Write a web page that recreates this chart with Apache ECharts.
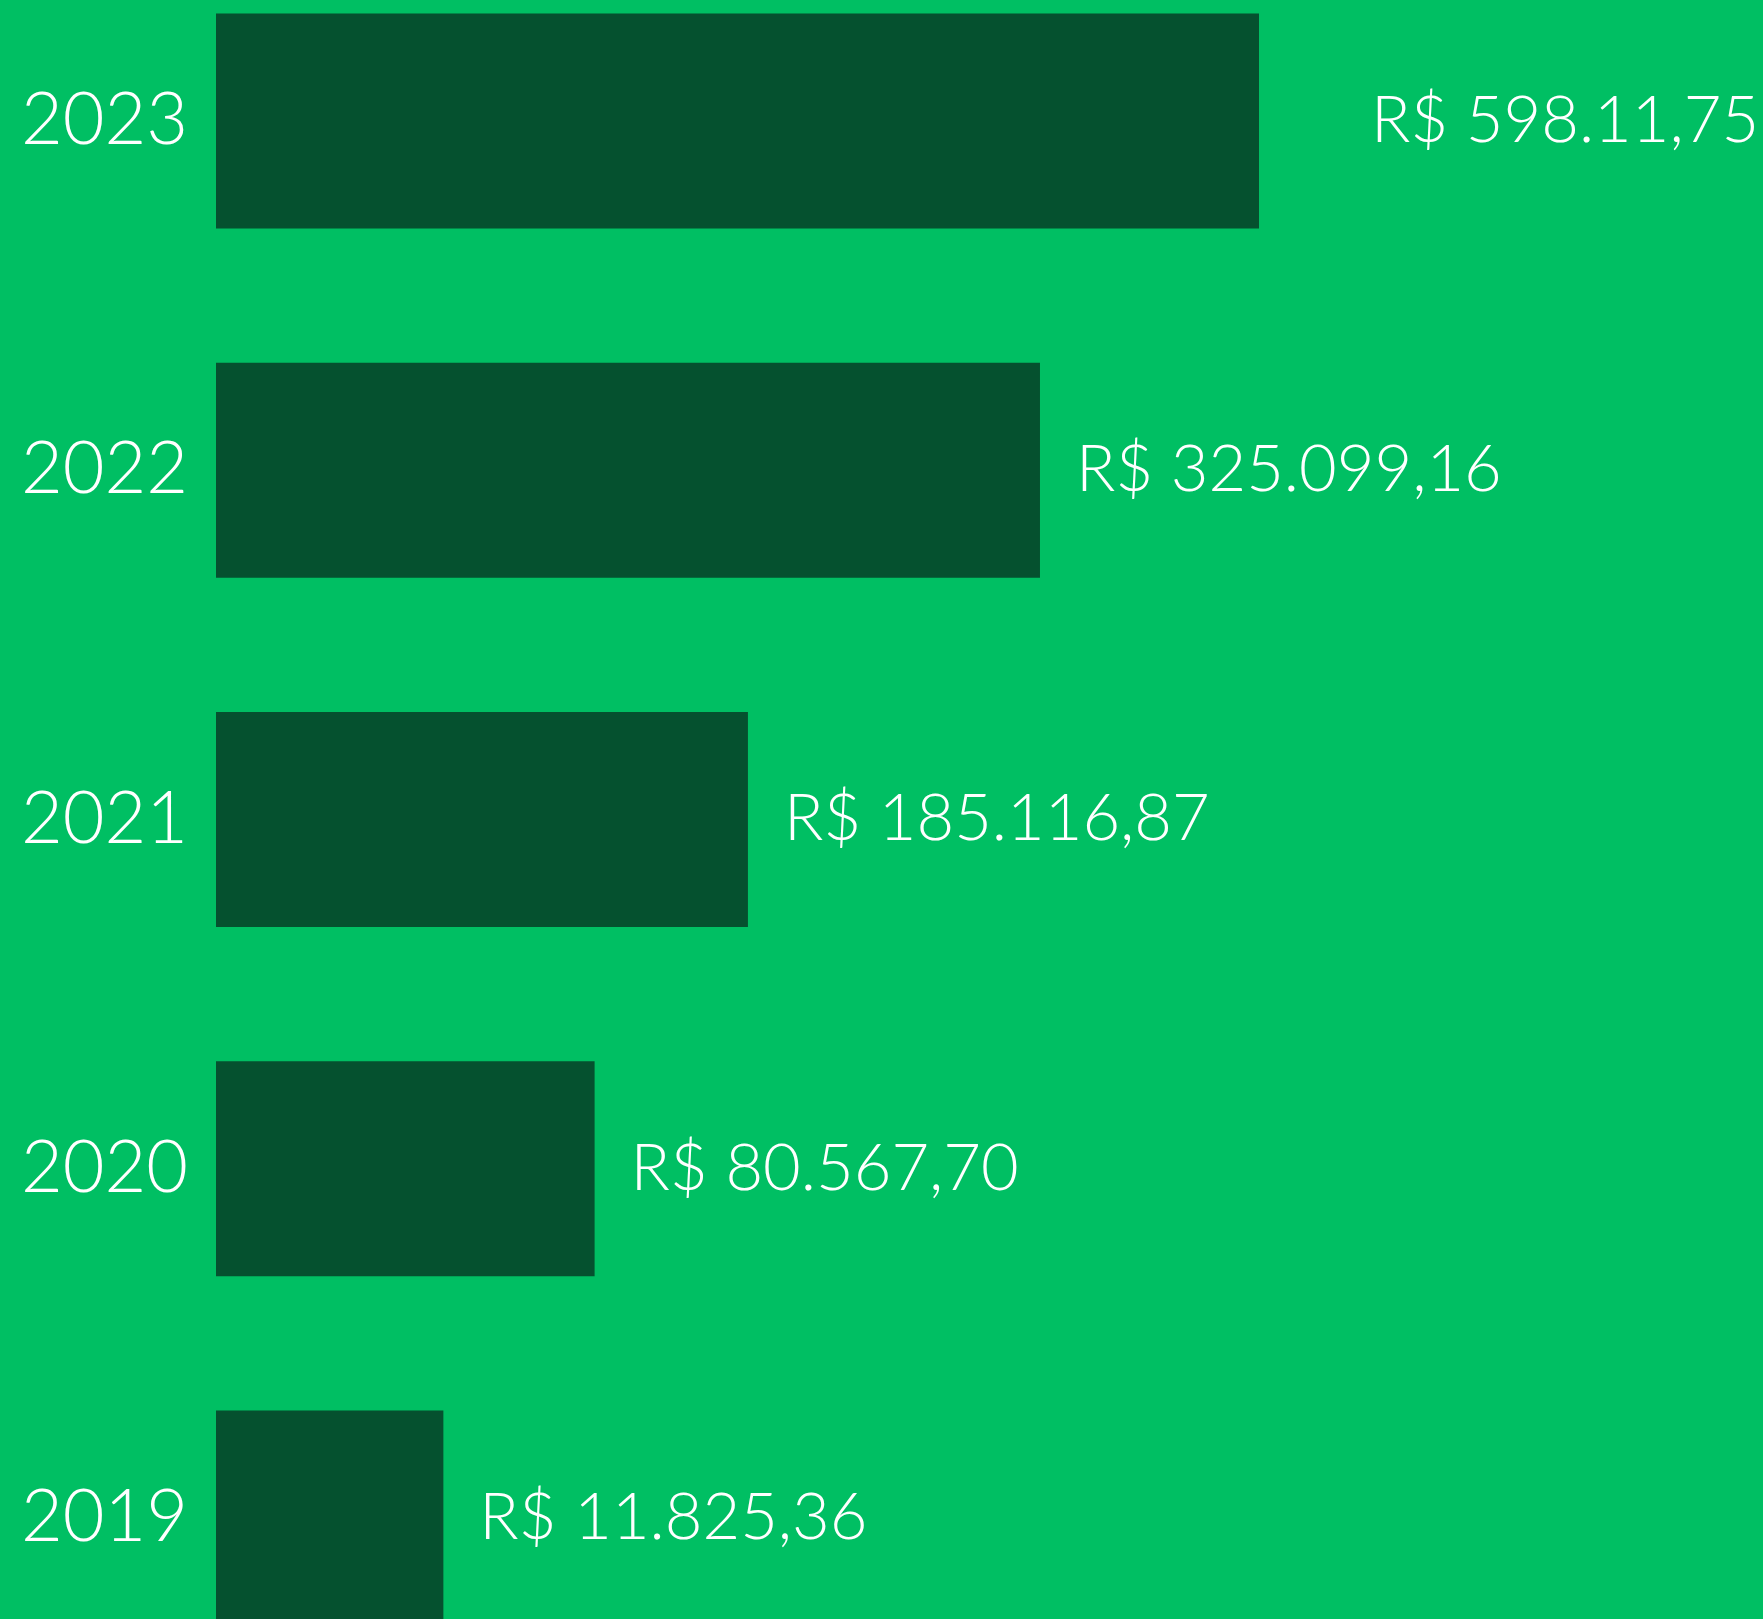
<!DOCTYPE html>
<html>
<head>
<meta charset="utf-8">
<script src="https://cdn.jsdelivr.net/npm/echarts@6/dist/echarts.min.js"></script>
<style>
    html, body {
        margin: 0;
        padding: 0;
        background: #00bf63;
    }

    #chart {
        width: 1763px;
        height: 1619px;
    }
</style>
</head>
<body>
<div id="chart"></div>
<script>
/** 年份 */
const years = ["2023", "2022", "2021", "2020", "2019"];
/** 長條長度（圖上比例，2023 = 100） */
const barLength = [100, 79, 51, 36.3, 21.8];
/** 數值標籤 */
const valueLabels = [
    "R$ 598.11,75",
    "R$ 325.099,16",
    "R$ 185.116,87",
    "R$ 80.567,70",
    "R$ 11.825,36",
];

const chart = echarts.init(document.getElementById("chart"));

const option = {
    backgroundColor: "#00bf63",
    animation: false,
    grid: {
        top: 121,
        bottom: 101,
        left: 216,
        right: 504,
        containLabel: false,
    },
    xAxis: {
        type: "value",
        min: 0,
        max: 100,
        show: false,
    },
    yAxis: {
        type: "category",
        data: years,
        inverse: true,
        boundaryGap: false, // 類別落在軸的兩端
        axisLine: { show: false },
        axisTick: { show: false },
        splitLine: { show: false },
        axisLabel: {
            margin: 28,
            color: "#ffffff",
            fontFamily: "Lato",
            fontWeight: 300,
            fontSize: 72,
        },
    },
    series: [
        {
            type: "bar",
            barWidth: 215,
            clip: false,
            itemStyle: {
                color: "#05512f",
            },
            label: {
                show: true,
                position: "right",
                distance: 36,
                color: "#ffffff",
                fontFamily: "Lato",
                fontWeight: 300,
                fontSize: 65,
                formatter: (params) => valueLabels[params.dataIndex],
            },
            // 2023 的標籤離長條較遠
            data: barLength.map((v, i) => (i === 0
                ? { value: v, label: { distance: 112 } }
                : v)),
        },
    ],
};

chart.setOption(option);
</script>
</body>
</html>
